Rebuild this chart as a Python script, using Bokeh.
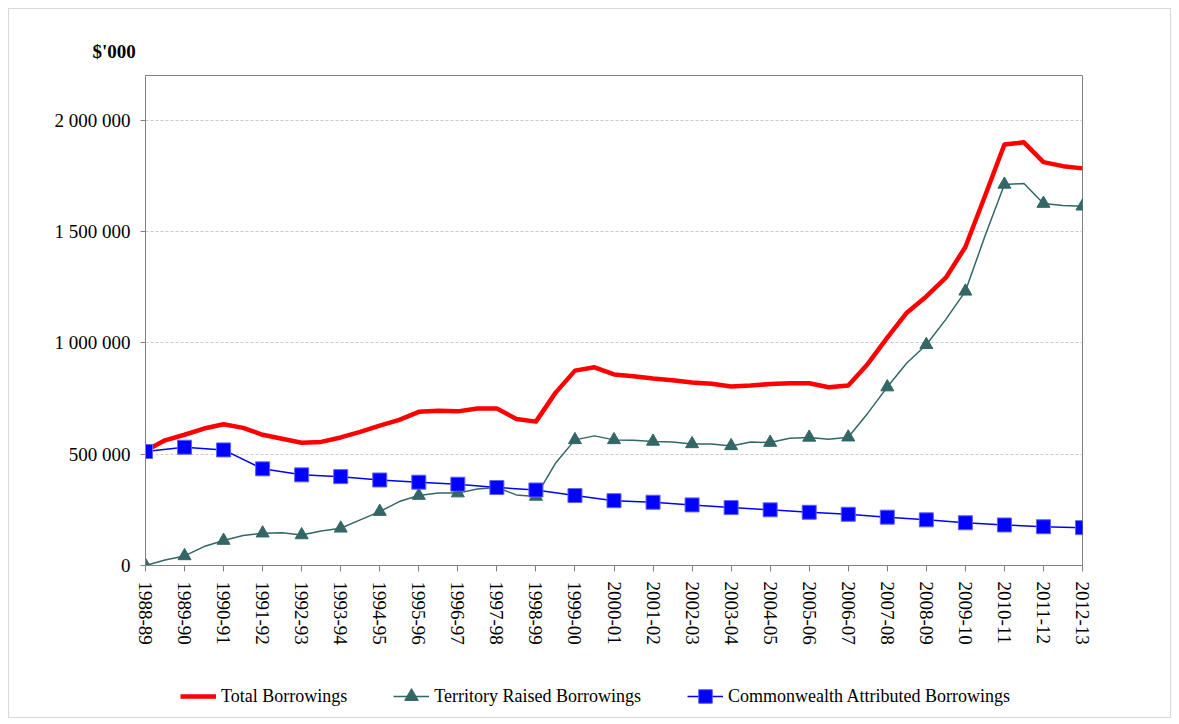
import numpy as np
from bokeh.plotting import figure
from bokeh.layouts import column
from bokeh.models import (FixedTicker, Range1d, Legend, LegendItem, Title)
from bokeh.embed import file_html
from bokeh.resources import INLINE

years = ["1988-89", "1989-90", "1990-91", "1991-92", "1992-93", "1993-94", "1994-95",
         "1995-96", "1996-97", "1997-98", "1998-99", "1999-00", "2000-01", "2001-02",
         "2002-03", "2003-04", "2004-05", "2005-06", "2006-07", "2007-08", "2008-09",
         "2009-10", "2010-11", "2011-12", "2012-13"]

# half-year readings ($'000)
total_borrowings = [515, 562, 587, 615, 634, 618, 587, 569, 551, 555, 575, 600, 628, 654,
                    690, 695, 692, 705, 705, 658, 646, 775, 875, 890, 858, 850, 840, 832,
                    822, 816, 804, 808, 815, 818, 818, 800, 808, 905, 1023, 1135, 1208,
                    1292, 1430, 1658, 1890, 1900, 1811, 1793, 1783]
territory_raised = [0, 25, 43, 85, 112, 135, 145, 147, 137, 155, 167, 205, 242, 287,
                    314, 325, 325, 343, 350, 317, 310, 459, 564, 582, 564, 562, 557, 555,
                    546, 546, 537, 554, 552, 571, 575, 567, 576, 684, 801, 909, 991,
                    1105, 1231, 1478, 1711, 1715, 1625, 1616, 1613]
# yearly readings ($'000)
commonwealth_attributed = [512, 531, 519, 434, 407, 399, 384, 374, 365, 350, 339, 314,
                           291, 284, 272, 260, 250, 239, 230, 217, 205, 192, 182, 174, 170]

y_ticks = [0, 500000, 1000000, 1500000, 2000000]
y_tick_labels = ["0", "500 000", "1 000 000", "1 500 000", "2 000 000"]
series_names = ["Total Borrowings", "Territory Raised Borrowings",
                "Commonwealth Attributed Borrowings"]

x_year = np.arange(len(years))
x_half = np.arange(len(total_borrowings)) * 0.5
tot = np.array(total_borrowings) * 1000
ter = np.array(territory_raised) * 1000
com = np.array(commonwealth_attributed) * 1000

SERIF = "Liberation Serif"
RED, TEAL, BLUE = "#FF0000", "#336666", "#0000FF"


def draw_series(fig, xh, t, tr, xy, trm, c):
    a = fig.line(xh, t, line_color=RED, line_width=4.5, line_join="round")
    b1 = fig.line(xh, tr, line_color=TEAL, line_width=1.5)
    b2 = fig.scatter(xy, trm, marker="triangle", size=13,
                     fill_color=TEAL, line_color=TEAL)
    c1 = fig.line(xy, c, line_color=BLUE, line_width=1.5)
    c2 = fig.scatter(xy, c, marker="square", size=14,
                     fill_color=BLUE, line_color="#6060FF", line_width=1)
    return [a], [b1, b2], [c1, c2]


p = figure(width=1161, height=651, output_backend="svg", toolbar_location=None,
           x_range=Range1d(0, len(years) - 1), y_range=Range1d(0, 2200000),
           min_border_left=136, min_border_right=88, min_border_top=66,
           min_border_bottom=95)
p.outline_line_color = "#808080"
p.outline_line_width = 1

draw_series(p, x_half, tot, ter, x_year, ter[::2], com)

# axes
p.xaxis.ticker = FixedTicker(ticks=list(x_year))
p.xaxis.major_label_overrides = {int(i): s for i, s in zip(x_year, years)}
p.xaxis.major_label_orientation = "vertical"
p.xaxis.major_label_text_font = SERIF
p.xaxis.major_label_text_font_size = "19px"
p.xaxis.major_label_text_color = "#000000"
p.xaxis.major_label_standoff = 10
p.xaxis.major_tick_out = 6
p.xaxis.major_tick_in = 0
p.xaxis.minor_tick_line_color = None
p.xaxis.axis_line_color = "#808080"
p.xaxis.major_tick_line_color = "#808080"

p.yaxis.ticker = FixedTicker(ticks=y_ticks)
p.yaxis.major_label_overrides = dict(zip(y_ticks, y_tick_labels))
p.yaxis.major_label_text_font = SERIF
p.yaxis.major_label_text_font_size = "19px"
p.yaxis.major_label_text_color = "#000000"
p.yaxis.major_label_standoff = 10
p.yaxis.major_tick_out = 5
p.yaxis.major_tick_in = 0
p.yaxis.minor_tick_line_color = None
p.yaxis.axis_line_color = "#808080"
p.yaxis.major_tick_line_color = "#808080"

p.xgrid.grid_line_color = None
p.ygrid.ticker = FixedTicker(ticks=y_ticks[1:])
p.ygrid.grid_line_color = "#c8c8c8"
p.ygrid.grid_line_dash = "3 2"
p.ygrid.grid_line_width = 1

unit = Title(text="$'000", text_font=SERIF, text_font_size="19px",
             text_font_style="bold", text_color="#000000", align="left",
             offset=-53, standoff=28)
p.add_layout(unit, "above")

# legend strip below the chart (hidden NaN renderers carry the legend glyph styles)
q = figure(width=1161, height=57, output_backend="svg", toolbar_location=None,
           x_range=Range1d(0, 1), y_range=Range1d(0, 1),
           x_axis_location=None, y_axis_location=None,
           min_border_left=136, min_border_right=88, min_border_top=0,
           min_border_bottom=0)
q.outline_line_color = None
q.xgrid.grid_line_color = None
q.ygrid.grid_line_color = None
nan = [np.nan]
lr_tot, lr_ter, lr_com = draw_series(q, nan, nan, nan, nan, nan, nan)

legend = Legend(items=[
    LegendItem(label=series_names[0], renderers=lr_tot),
    LegendItem(label=series_names[1], renderers=lr_ter),
    LegendItem(label=series_names[2], renderers=lr_com),
], orientation="horizontal", location=(35, 4))
legend.label_text_font = SERIF
legend.label_text_font_size = "18px"
legend.label_text_color = "#000000"
legend.glyph_width = 36
legend.glyph_height = 34
legend.label_height = 34
legend.label_standoff = 5
legend.spacing = 46
legend.padding = 0
legend.margin = 0
legend.border_line_color = None
legend.background_fill_alpha = 0
q.add_layout(legend, "center")

layout = column(p, q, spacing=0)
layout.margin = (8, 0, 0, 8)
layout.styles = {"border": "1px solid #d9d9d9"}

open("out.html", "w").write(file_html(layout, INLINE))
